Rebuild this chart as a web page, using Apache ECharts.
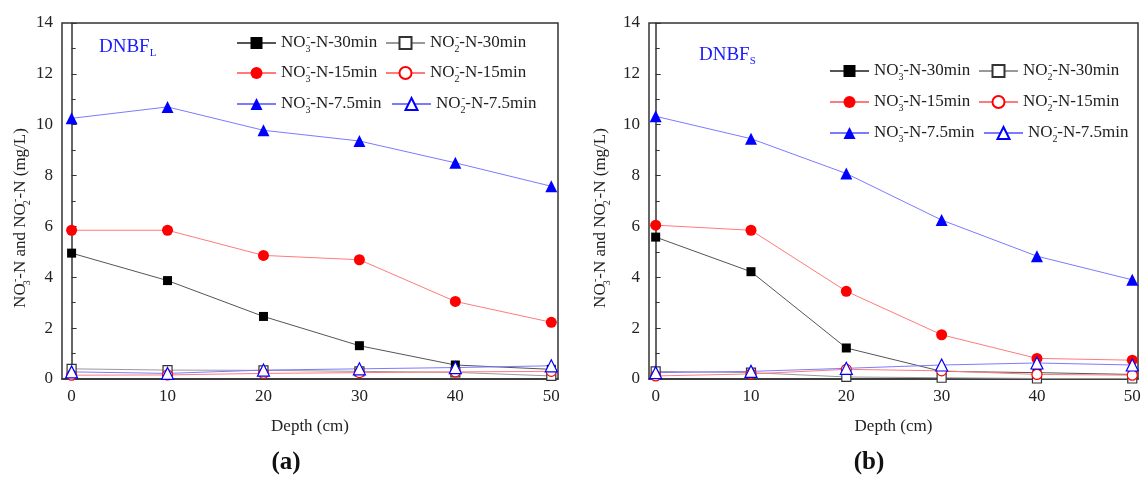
<!DOCTYPE html>
<html>
<head>
<meta charset="utf-8">
<script src="https://cdn.jsdelivr.net/npm/echarts@6/dist/echarts.min.js"></script>
<style>
  html,body{margin:0;padding:0;background:#fff}
  #box{width:1144px;height:477px}
</style>
</head>
<body>
<div id="box"></div>
<script>
// depth (cm) and tick labels
const depth = [0, 10, 20, 30, 40, 50];
const xTicks = [0, 10, 20, 30, 40, 50];

// (a) DNBF_L
const a_no3_30 = [4.95, 3.87, 2.46, 1.31, 0.55, 0.38];
const a_no2_30 = [0.40, 0.35, 0.34, 0.30, 0.26, 0.12];
const a_no3_15 = [5.85, 5.85, 4.86, 4.69, 3.05, 2.23];
const a_no2_15 = [0.15, 0.16, 0.22, 0.25, 0.28, 0.30];
const a_no3_75 = [10.25, 10.70, 9.78, 9.36, 8.50, 7.58];
const a_no2_75 = [0.28, 0.22, 0.35, 0.40, 0.45, 0.52];

// (b) DNBF_S
const b_no3_30 = [5.58, 4.22, 1.22, 0.30, 0.25, 0.18];
const b_no2_30 = [0.30, 0.25, 0.08, 0.05, 0.02, 0.02];
const b_no3_15 = [6.05, 5.85, 3.45, 1.74, 0.81, 0.74];
const b_no2_15 = [0.12, 0.20, 0.38, 0.32, 0.18, 0.15];
const b_no3_75 = [10.33, 9.45, 8.08, 6.25, 4.83, 3.90];
const b_no2_75 = [0.25, 0.30, 0.42, 0.55, 0.63, 0.55];

// legend texts (rich: n normal, b subscript, p superscript)
const seriesLabels = [
  '{n|NO}{b|3}{p|-}{n|-N-30min}',
  '{n|NO}{b|2}{p|-}{n|-N-30min}',
  '{n|NO}{b|3}{p|-}{n|-N-15min}',
  '{n|NO}{b|2}{p|-}{n|-N-15min}',
  '{n|NO}{b|3}{p|-}{n|-N-7.5min}',
  '{n|NO}{b|2}{p|-}{n|-N-7.5min}'
];

const serif = '"Liberation Serif","Times New Roman",serif';
const rich = {
  n: {fontFamily: serif, fontSize: 17, lineHeight: 22, color: '#222'},
  b: {fontFamily: serif, fontSize: 10, lineHeight: 10, verticalAlign: 'bottom', width: 1, color: '#222'},
  p: {fontFamily: serif, fontSize: 11, lineHeight: 11, verticalAlign: 'top', color: '#222'}
};
// same thing for graphic texts (zrender wants fill)
const richG = {
  n: {fontFamily: serif, fontSize: 17, lineHeight: 22, fill: '#222'},
  b: {fontFamily: serif, fontSize: 10, lineHeight: 10, verticalAlign: 'bottom', width: 1, fill: '#222'},
  p: {fontFamily: serif, fontSize: 11, lineHeight: 11, verticalAlign: 'top', fill: '#222'}
};

// marker / line look for the 6 series (same order as labels)
const looks = [
  {symbol: 'rect', size: 9, fill: '#000', border: '#000', line: '#555'},
  {symbol: 'rect', size: 9, fill: '#fff', border: '#333', line: '#999'},
  {symbol: 'circle', size: 11, fill: '#ff0000', border: '#ff0000', line: '#ff7b7b'},
  {symbol: 'circle', size: 10, fill: '#fff', border: '#ff0000', line: '#ff7b7b'},
  {symbol: 'triangle', size: 12, fill: '#0000ff', border: '#0000ff', line: '#7b7bff'},
  {symbol: 'triangle', size: 12, fill: '#fff', border: '#0000ff', line: '#7b7bff'}
];

function mkSeries(name, values, idx, look) {
  return {
    name: name,
    type: 'line',
    xAxisIndex: idx,
    yAxisIndex: idx,
    data: depth.map((d, i) => [d, values[i]]),
    symbol: look.symbol,
    symbolSize: look.size,
    itemStyle: {color: look.fill, borderColor: look.border, borderWidth: look.fill === '#fff' ? 1.2 : 0},
    lineStyle: {color: look.line, width: 1},
    emphasis: {disabled: true},
    clip: false,
    z: 3
  };
}

const aData = [a_no3_30, a_no2_30, a_no3_15, a_no2_15, a_no3_75, a_no2_75];
const bData = [b_no3_30, b_no2_30, b_no3_15, b_no2_15, b_no3_75, b_no2_75];
let series = [];
aData.forEach((v, i) => series.push(mkSeries('a' + i, v, 0, looks[i])));
bData.forEach((v, i) => series.push(mkSeries('b' + i, v, 1, looks[i])));

const legPosA = [[236, 32], [385, 32], [236, 62], [385, 62], [236, 93], [391, 93]];
const legPosB = [[829, 60], [978, 60], [829, 91], [978, 91], [829, 122], [983, 122]];
let legends = [];
function addLegends(prefix, pos) {
  pos.forEach((p, i) => {
    legends.push({
      data: [prefix + i],
      left: p[0], top: p[1],
      padding: 0,
      itemWidth: 39, itemHeight: 15,
      selectedMode: false,
      formatter: () => seriesLabels[i],
      textStyle: {rich: rich}
    });
  });
}
addLegends('a', legPosA);
addLegends('b', legPosB);

function xAx(idx, mn, mx) {
  return {
    type: 'value', gridIndex: idx, min: mn, max: mx,
    name: 'Depth (cm)', nameLocation: 'middle', nameGap: 39,
    nameTextStyle: {fontFamily: serif, fontSize: 17, color: '#222'},
    axisLine: {lineStyle: {color: '#333', width: 1.5}},
    axisTick: {show: false},
    splitLine: {show: false},
    axisLabel: {customValues: xTicks, fontFamily: serif, fontSize: 17, color: '#222', margin: 9}
  };
}
function yAx(idx) {
  return {
    type: 'value', gridIndex: idx, min: 0, max: 14, interval: 2,
    axisLine: {show: true, lineStyle: {color: '#333', width: 1.5}},
    axisTick: {show: true, inside: true, length: 5, lineStyle: {color: '#333'}},
    minorTick: {show: true, splitNumber: 2, length: 4, lineStyle: {color: '#333'}},
    splitLine: {show: false},
    axisLabel: {fontFamily: serif, fontSize: 17, color: '#222', margin: 9}
  };
}

const yTitle = '{n|NO}{b|3}{p|-}{n|-N and NO}{b|2}{p|-}{n|-N (mg/L)}';
function textEl(x, y, text, st, rot) {
  return {type: 'text', x: x, y: y, rotation: rot || 0,
    style: Object.assign({text: text, align: 'center', verticalAlign: 'middle'}, st)};
}
const blueRich = {
  t: {fontFamily: serif, fontSize: 19, lineHeight: 24, fill: '#1a1aff'},
  s: {fontFamily: serif, fontSize: 11, lineHeight: 11, verticalAlign: 'bottom', fill: '#1a1aff'}
};

let myChart = echarts.init(document.getElementById('box'));
let option = {
  backgroundColor: '#fff',
  animation: false,
  grid: [
    {left: 62, top: 23, width: 496, height: 356, show: true, borderColor: '#333', borderWidth: 1.5},
    {left: 649, top: 23, width: 489, height: 356, show: true, borderColor: '#333', borderWidth: 1.5}
  ],
  xAxis: [xAx(0, -1, 50.7), xAx(1, -0.7, 50.6)],
  yAxis: [yAx(0), yAx(1)],
  legend: legends,
  series: series,
  graphic: [
    textEl(21, 218, yTitle, {rich: richG}, Math.PI / 2),
    textEl(601, 218, yTitle, {rich: richG}, Math.PI / 2),
    textEl(99, 47, '{t|DNBF}{s|L}', {rich: blueRich, align: 'left'}),
    textEl(699, 55, '{t|DNBF}{s|S}', {rich: blueRich, align: 'left'}),
    textEl(286, 463, '(a)', {fontFamily: serif, fontSize: 25, fontWeight: 'bold', fill: '#111'}),
    textEl(869, 463, '(b)', {fontFamily: serif, fontSize: 25, fontWeight: 'bold', fill: '#111'})
  ]
};
myChart.setOption(option);
</script>
</body>
</html>
